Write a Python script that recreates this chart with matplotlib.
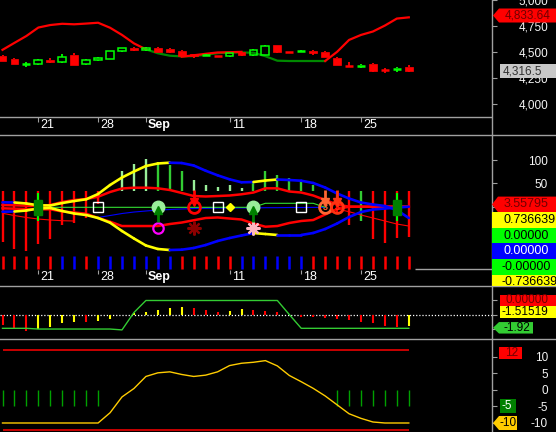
import numpy as np
import matplotlib
matplotlib.use('Agg')
import matplotlib.pyplot as plt
from matplotlib.lines import Line2D
from matplotlib.patches import Polygon, Rectangle
from matplotlib.collections import LineCollection
from matplotlib.transforms import Bbox

plt.rcParams['font.family'] = ['Liberation Sans', 'DejaVu Sans']

W, H = 556, 432      # output size, px
XAX = 492            # px column of the value axis
GRID = '#a0a0a0'
nan = np.nan

# %% data
date_pos = [3, 8, 12, 19, 25, 30]
date_lab = ['21', '28', 'Sep', '11', '18', '25']

op = [4465, 4434, 4377, 4387, 4425, 4402, 4475, 4387, 4421, 4437, 4510, 4535, 4516, 4535, 4529, 4510, 4482, 4468,
      4466, 4459, 4503, 4472, 4472, 4567, 4504, 4508, 4513, 4497, 4446, 4371, 4368, 4390, 4333, 4340, 4354]
hi = [4470, 4446, 4402, 4430, 4446, 4484, 4494, 4434, 4456, 4515, 4542, 4551, 4546, 4548, 4544, 4520, 4485, 4483,
      4467, 4494, 4506, 4532, 4570, 4570, 4505, 4516, 4516, 4513, 4449, 4408, 4387, 4393, 4345, 4354, 4377]
lo = [4412, 4385, 4354, 4380, 4400, 4400, 4378, 4373, 4415, 4435, 4503, 4514, 4508, 4504, 4495, 4464, 4440, 4459,
      4463, 4456, 4460, 4465, 4470, 4495, 4501, 4497, 4472, 4451, 4375, 4368, 4349, 4314, 4301, 4313, 4314]
cl = [4418, 4387, 4387, 4421, 4402, 4456, 4380, 4421, 4446, 4513, 4535, 4516, 4535, 4506, 4497, 4466, 4466, 4472,
      4464, 4491, 4472, 4520, 4560, 4497, 4502, 4512, 4491, 4453, 4377, 4369, 4372, 4316, 4331, 4344, 4316.5]

red_stop = [4522, 4589, 4655, 4736, 4760, 4772, 4767, 4774, 4782, 4734, 4665, 4584, 4527, nan, nan,
            4456, 4470, 4484, 4497, 4499, 4503, nan, nan, nan, nan, nan, nan,
            4415, 4503, 4617, 4665, 4698, 4755, 4822, 4833.64]
green_stop = [nan] * 12 + [4527, 4489, 4466, 4459, 4462, 4475, 4490, 4497, 4497, 4494, 4461, 4418,
                           4415, 4415, 4415, 4415] + [nan] * 7

# oscillator panel
bb_up = [9.4, 9.0, 6.9, 3.0, 2.6, 7.9, 12.2, 15.9, 27.2, 46.5, 62.6, 75.4, 87.2, 92.6, 94.3, 93.6, 88.3, 77.1,
         67.3, 58.7, 52.3, 52.9, 56.1, 58.3, 57.2, 55.7, 50.8, 41.1, 28.3, 17.6, 9.0, 4.7, 1.5, -7.1, -24.2]
bb_dn = [-10.7, -10.3, -8.1, -3.9, -2.8, -9.2, -14.6, -17.8, -24.2, -34.3, -52.1, -68.1, -83.1, -90.6, -92.8,
         -92.1, -88.5, -82.1, -73.5, -67.1, -61.7, -56.4, -58.5, -60.6, -60.6, -60.6, -56.3, -47.8, -36.0,
         -22.1, -11.4, -6.0, -3.9, -1.7, 0.0]
bb_col = 'b' + 'y' * 13 + 'b' * 7 + 'y' * 2 + 'b' * 11      # one per segment
in_up = [3.6, 3.0, 2.1, 1.5, 3.6, 10.1, 14.4, 16.5, 21.4, 31.5, 39.0, 40.7, 40.7, 39.4, 35.8, 29.4, 22.9, 21.9,
         22.9, 24.0, 26.6, 30.4, 39.4, 39.4, 32.6, 30.4, 24.0, 14.4, 4.7, 0, 0, 0, 0, 0, 0]
in_dn = [-3.4, -4.3, -4.9, -5.6, -5.6, -10.3, -12.4, -15.0, -24.2, -32.1, -41.4, -41.4, -41.4, -41.4, -37.1,
         -33.9, -29.0, -24.2, -23.1, -25.3, -27.4, -36.0, -42.9, -41.4, -34.9, -30.6, -28.5, -16.7, -4.9,
         0, 0, 0, 0, 0, 0]
thin_red = [-14.1, -18.9, -23.1, -26.4, -28.5, -30.0, -30.6] + [nan] * 21 + \
           [-4.9, -10.7, -17.8, -24.2, -30.6, -37.1, -41.4]
thin_blue = [nan] * 8 + [-23.1, -18.9, -14.6, -11.4, -9.2, -7.1, -6.0, -4.9, -3.9, -3.4, -3.0, -3.0, -2.6,
                         -2.6, -2.1, -2.1, -1.7, -1.7, -1.5, -1.5] + [nan] * 7
thin_green = [nan] * 4 + [-1.3] * 18 + [7.3] * 5 + [-1.3] + [nan] * 7
osc_base = 33.6
osc = [-75, -90.6, -95, -80, -69, -39, -35.6, -24.9, 5.8, nan, 76.5, 91.5, 101.6, 96.4, 89.4, 76.5, 57.2, 46.5,
       41.6, 46.5, 40.7, 55.1, 76.5, 67.9, 60.9, 53.6, 46.5, nan, -10.7, -39.2, -30.6, -69.2, -77.8, -67.0, -64.9]
osc_col = 'rrrrrrrrrnlllggglllllggggggnrrgrrrr'
strip_col = 'rrrrrbbrbbbbbbbrrrrrbbbbbbrrrrrrrrr'
box_idx = [8, 18, 25]
buy_idx = [13, 21]
sell_idx = [16, 27, 28]
sell_c = ['#ff0000', '#ff6633', '#ff3311']
osc_tags = ['3.55795', '0.736639', '0.00000', '0.00000', '-0.00000', '-0.736639']

# macd-like panel
hist3 = [-1.69, -1.88, -2.08, -1.97, -1.81, -1.53, -1.46, -1.46, -1.39, -1.28, -1.03, -0.84, -0.77, -0.66, -0.52,
         -0.43, -0.52, -0.66, -0.79, -0.72, -0.59, -0.66, -0.72, -0.79, -1.0, -1.12, -1.12, -1.19, -1.28, -1.35,
         -1.46, -1.57, -1.74, -1.85, -1.74]
hist3_col = 'rrryyyyryyyyyyyyrrryyrrrrrrrrrrrrry'
trend3 = [-1.92, -1.92, -1.92, -1.97, -1.97, -1.97, -1.97, -1.97, -1.97, -1.97, -2.03, -0.83] + [0.0] * 12 + \
         [-0.97] + [-1.92] * 10

# bottom panel
osc4 = [-10] * 9 + [-6.9, -2.1, 0.45, 4.1, 5.2, 5.5, 4.7, 4.1, 4.5, 5.5, 7.4, 8.1, 8.4, 8.9, 7.3, 4.4, 2.5,
                    0.5, -1.8, -4.5, -7.2, -8.6, -9.7] + [-10] * 3
green4_idx = list(range(0, 9)) + list(range(28, 35))

x = np.arange(len(cl))
XL = (-2.5 / 11.95, (XAX - 2.5) / 11.95)

fig = plt.figure(figsize=(W / 100, H / 100), dpi=100, facecolor='black')


def panel(top, bot, ylim, ticks, labels):
    ax = fig.add_axes([0, 1 - bot / H, XAX / W, (bot - top) / H])
    ax.set_facecolor('black')
    ax.set_xlim(*XL)
    ax.set_ylim(*ylim)
    for s in ax.spines.values():
        s.set_visible(False)
    ax.set_xticks([])
    ax.yaxis.tick_right()
    ax.set_yticks(ticks, labels)
    ax.tick_params(axis='y', colors=GRID, labelcolor='#f4f4f4', length=3.5, width=0.8, pad=36.8, labelsize=8.5)
    for t in ax.get_yticklabels():
        t.set_ha('right')
    return ax


def dates(ax, ytop, ybot, ytxt):
    ax.vlines(date_pos, ybot, ytop, color=GRID, lw=0.8)
    for p, lab in zip(date_pos, date_lab):
        ax.text(p + 0.17, ytxt, lab, color='white', fontsize=9, va='center', ha='left',
                fontweight='bold' if lab == 'Sep' else 'normal')


def tag(top, bot, yc, x0, x1, h, txt, fc, tc, tx, arrow=False, fs=8.5):
    clip = Bbox.from_extents(0, H - bot, W, H - top)
    a = 6 if arrow else 0
    pts = [(x0, yc), (x0 + a, yc - h / 2), (x1, yc - h / 2), (x1, yc + h / 2), (x0 + a, yc + h / 2)]
    if not arrow:
        pts = pts[1:]
    p = Polygon([(u / W, 1 - v / H) for u, v in pts], closed=True, transform=fig.transFigure,
                fc=fc, ec='none', zorder=5)
    fig.add_artist(p)
    p.set_clip_box(clip)
    t = fig.text(tx / W, 1 - yc / H, txt, color=tc, fontsize=fs, ha='left', va='center', zorder=6)
    t.set_clip_on(True)
    t.set_clip_box(clip)


# %% price panel  (y px 0..135, price = 4988 - 9.5*px)
ax1 = panel(0, 135, (3705.5, 4988), [4000, 4250, 4500, 4750, 5000], ['4,000', '4,250', '4,500', '4,750', '5,000'])
ax1.axhline(3876.5, color=GRID, lw=1)
dates(ax1, 3876.5, 3834, 3806)
ax1.plot(x, green_stop, color='#008800', lw=1.6, zorder=2)
ax1.plot(x, red_stop, color='#ff0000', lw=1.6, zorder=2)
for i in x:
    o, h, l, c = op[i], hi[i], lo[i], cl[i]
    col = '#00ff00' if c >= o else '#ff0000'
    top, bot = max(o, c), min(o, c)
    ax1.vlines(i, top, h, color=col, lw=1.3, zorder=3)
    ax1.vlines(i, l, bot, color=col, lw=1.3, zorder=3)
    if top - bot < 12:
        ax1.hlines((o + c) / 2, i - 0.34, i + 0.34, color=col, lw=1.8, zorder=3)
    elif c >= o:
        ax1.add_patch(Rectangle((i - 0.33, bot), 0.66, top - bot, fill=False, ec=col, lw=1.1, zorder=3))
    else:
        ax1.add_patch(Rectangle((i - 0.33, bot), 0.66, top - bot, fc=col, ec=col, lw=0.5, zorder=3))

# %% oscillator panel  (y px 135..286, v = (206.7 - px)*2.143)
ax2 = panel(135, 286, (-169.9, 153.65), [100, 50, 0, -50, -100], ['100', '50', '0', '-50', '-100'])
dates(ax2, -135.6, -143.2, -149.6)
ax2.hlines(-133.5, 34.5, XL[1], color=GRID, lw=1)
ax2.vlines(x, -105.6, -133.5, colors=['#ff0000' if c == 'r' else '#0000ff' for c in strip_col], lw=1.8)

cmap = {'r': '#ff0000', 'g': '#33cc33', 'l': '#99ee99'}
for i in x:
    if osc_col[i] != 'n':
        ax2.vlines(i, osc_base, osc[i], color=cmap[osc_col[i]], lw=1.7, zorder=2)

ax2.plot(x, thin_red, color='#ff0000', lw=0.8, zorder=2)
ax2.plot(x, thin_blue, color='#0000ff', lw=0.8, zorder=2)
ax2.plot(x, thin_green, color='#33dd33', lw=0.8, zorder=2)
ax2.plot(x, in_up, color='#ff0000', lw=1.8, zorder=3)
ax2.plot(x, in_dn, color='#ff0000', lw=1.8, zorder=3)
for band in (bb_up, bb_dn):
    segs = [[(k, band[k]), (k + 1, band[k + 1])] for k in range(len(band) - 1)]
    ax2.add_collection(LineCollection(segs, colors=['#ffff00' if c == 'y' else '#0000ff' for c in bb_col],
                                      lw=1.9, zorder=3, capstyle='round'))

for i in (3, 33):
    ax2.vlines(i, -30, 30, color='#00ff00', lw=1.5, zorder=4)
    ax2.add_patch(Rectangle((i - 0.33, -17.8), 0.66, 32.2, fc='#008000', ec='#008000', zorder=4))

ax2.plot(box_idx, [-0.6] * len(box_idx), 's', ms=6.5, mfc='none', mec='white', mew=1, zorder=5)
ax2.plot([19], [0], 'D', ms=4.5, color='#ffff00', zorder=5)
for i in buy_idx:
    ax2.plot([i], [0], 'o', ms=9, mfc='#99ee99', mec='#99ee99', zorder=5)
    ax2.vlines(i, -33, -10, color='#008000', lw=2, zorder=6)
    ax2.plot([i], [-8], '^', ms=6, color='#008000', zorder=6)
for i, c in zip(sell_idx, sell_c):
    ax2.plot([i], [0], 'o', ms=8.5, mfc='none', mec=c, mew=2, zorder=5)
    ax2.vlines(i, 36, 12, color=c, lw=2, zorder=6)
    ax2.plot([i], [10], 'v', ms=6, color=c, zorder=6)
    if i != 16:
        ax2.text(i, -1, '3', color=c, fontsize=6.5, ha='center', va='center', fontweight='bold', zorder=6)
ax2.plot([13], [-45], 'o', ms=7.5, mfc='none', mec='#ff00ff', mew=1.6, zorder=5)
ax2.plot([16], [-45], marker=(8, 2, 0), ms=10, color='#8b0000', mew=1.6, zorder=5)
ax2.plot([21], [-45], marker=(8, 2, 0), ms=10, color='#ffb6c1', mew=1.6, zorder=5)

# %% macd panel  (y px 286..339, v = (300.5 - px)*0.069)
ax3 = panel(286, 339, (-2.657, 1.0), [0, -1, -2], ['', '', ''])
ax3.axhline(-1.0, color='white', lw=0.9, ls=(0, (1, 1.5)))
ax3.vlines(x, -1.0, hist3, colors=['#ff0000' if c == 'r' else '#ffff00' for c in hist3_col], lw=1.5)
ax3.plot(x, trend3, color='#33cc33', lw=1)

# %% bottom panel  (y px 339..432, v = (390 - px)/3.3)
ax4 = panel(339, 432, (-12.73, 15.45), [10, 5, 0, -5, -10], ['10', '5', '0', '-5', '-10'])
ax4.hlines([12, -12], 0, x[-1], color='#ff0000', lw=1.1)
ax4.vlines(green4_idx, 0, -5, color='#00a000', lw=1)
ax4.plot(x, osc4, color='#ffcc00', lw=1)

# %% frame lines
for yp in (135, 286, 339):
    fig.add_artist(Line2D([0, 1], [1 - yp / H] * 2, transform=fig.transFigure, color=GRID, lw=1))
fig.add_artist(Line2D([XAX / W] * 2, [0, 1], transform=fig.transFigure, color=GRID, lw=1))

# %% last-value tags
tag(0, 135, 15.5, 493, 560, 14, '4,833.64', '#ff0000', '#700000', 505, arrow=True)
tag(0, 135, 71, 500, 560, 14, '4,316.5', '#c8c8c8', '#303030', 503)
tag_fc = ['#ff0000', '#ffff00', '#00ff00', '#0000ff', '#00ff00', '#ffff00']
tag_tc = ['#700000', '#000000', '#000000', '#ffffff', '#000000', '#000000']
for k, (txt, fc, tc) in enumerate(zip(osc_tags, tag_fc, tag_tc)):
    tx = 502 if txt.startswith('-') else 504
    tag(135, 286, 204.4 + 15.6 * k, 492, 560, 15.6, txt, fc, tc, tx, arrow=(k == 0), fs=9)
tag(286, 339, 300.3, 500, 560, 11.5, '0.00000', '#ff0000', '#700000', 505)
tag(286, 339, 312.0, 500, 560, 11.5, '-1.51519', '#ffff00', '#000000', 502)
tag(286, 339, 327.8, 493, 533, 11.5, '-1.92', '#33cc33', '#000000', 503, arrow=True)
tag(339, 432, 353.0, 499, 522, 12.5, '12', '#ff0000', '#700000', 505)
tag(339, 432, 406.3, 500, 516, 14, '-5', '#008000', '#ffffff', 502)
tag(339, 432, 423.0, 493, 517, 14, '-10', '#ffcc00', '#000000', 500, arrow=True)

fig.savefig('out.png', dpi=100, facecolor='black')
